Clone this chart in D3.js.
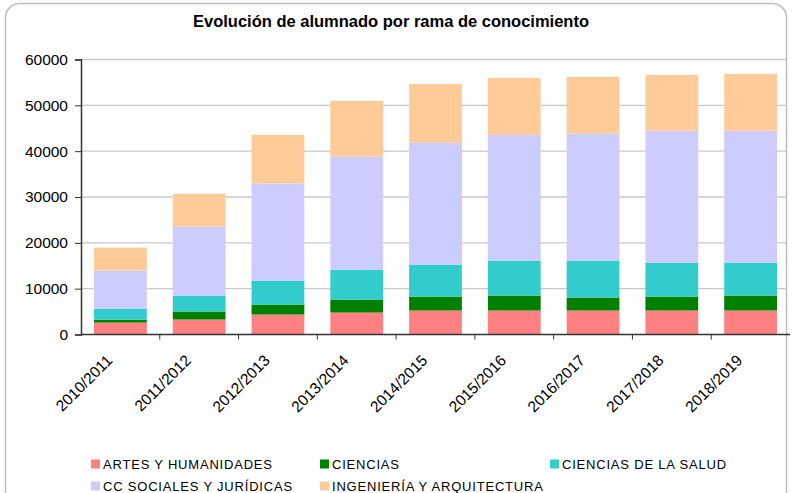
<!DOCTYPE html>
<html><head><meta charset="utf-8">
<script src="https://cdn.jsdelivr.net/npm/d3@7"></script>
<style>body{margin:0;background:#fff;}svg{display:block;font-family:"Liberation Sans",Arial,sans-serif;}</style>
</head><body>
<svg id="c" width="793" height="493"></svg>
<script>
const categories = ["2010/2011","2011/2012","2012/2013","2013/2014","2014/2015","2015/2016","2016/2017","2017/2018","2018/2019"];
const seriesNames = ["ARTES Y HUMANIDADES","CIENCIAS","CIENCIAS DE LA SALUD","CC SOCIALES Y JURÍDICAS","INGENIERÍA Y ARQUITECTURA"];
const artes    = [2600, 3270, 4360, 4790, 5230, 5230, 5230, 5230, 5230];
const ciencias = [ 650, 1740, 2180, 2840, 3050, 3270, 2830, 3050, 3270];
const salud    = [2400, 3490, 5220, 6530, 6970, 7620, 8060, 7410, 7190];
const sociales = [8280,15030,21210,24620,26580,27450,27740,28750,28750];
const ingenieria=[5020, 7190,10600,12200,12850,12420,12350,12200,12420];
const yTicks = [0,10000,20000,30000,40000,50000,60000];
const colors = ["#FF8080","#008000","#33CCCC","#CCCCFF","#FFCC99"];

const svg = d3.select("#c");
// frame
svg.append("rect").attr("x",5.5).attr("y",3.5).attr("width",781).attr("height",520)
  .attr("rx",14).attr("fill","#fff").attr("stroke","#bdbdbd").attr("stroke-width",1.5);

const m = {l:81, t:59.5, r:790, b:334.5};
const x = d3.scaleBand().domain(categories).range([m.l, m.r]).paddingInner(0.33).paddingOuter(0.165);
const xb = d3.scaleBand().domain(categories).range([m.l, m.r]);
const y = d3.scaleLinear().domain([0,60000]).range([m.b, m.t]);

// gridlines
svg.append("g").selectAll("line").data(yTicks.filter(d=>d>0)).join("line")
  .attr("x1",m.l).attr("x2",787).attr("y1",d=>y(d)).attr("y2",d=>y(d))
  .attr("stroke","#c8c8c8").attr("stroke-width",1.3);

const data = categories.map((c,i)=>({cat:c, s0:artes[i], s1:ciencias[i], s2:salud[i], s3:sociales[i], s4:ingenieria[i]}));
const stack = d3.stack().keys(["s0","s1","s2","s3","s4"])(data);
svg.append("g").selectAll("g").data(stack).join("g").attr("fill",(d,i)=>colors[i])
  .selectAll("rect").data(d=>d).join("rect")
  .attr("x",d=>x(d.data.cat)).attr("width",x.bandwidth())
  .attr("y",d=>y(d[1])).attr("height",d=>y(d[0])-y(d[1]));

// y axis
const ya = svg.append("g").attr("transform",`translate(${m.l},0)`)
  .call(d3.axisLeft(y).tickValues(yTicks).tickSize(6).tickPadding(7).tickFormat(d3.format("d")));
ya.select(".domain").attr("stroke","#333").attr("stroke-width",1.5);
ya.selectAll(".tick line").attr("stroke","#333");
ya.selectAll("text").attr("font-size","15.5px").attr("fill","#000").attr("font-family","Liberation Sans, Arial, sans-serif");

// x axis
const xa = svg.append("g").attr("transform",`translate(0,${m.b})`);
xa.append("line").attr("x1",m.l).attr("x2",m.r).attr("stroke","#333").attr("stroke-width",1.5);
xa.selectAll("line.t").data(categories.slice(1)).join("line").attr("class","t")
  .attr("x1",d=>xb(d)).attr("x2",d=>xb(d)).attr("y1",0).attr("y2",5).attr("stroke","#333");
xa.selectAll("text").data(categories).join("text")
  .attr("transform",d=>`translate(${xb(d)+xb.bandwidth()/2-11},${23}) rotate(-45)`)
  .attr("text-anchor","end").attr("font-size","15.5px").attr("dy","0.35em").text(d=>d);

// title
svg.append("text").attr("x",391).attr("y",27).attr("text-anchor","middle")
  .attr("font-size","16.5px").attr("font-weight","bold").text("Evolución de alumnado por rama de conocimiento");

// legend
const legPos = [[91,464],[320,464],[550,464],[91,486],[320,486]];
const lg = svg.append("g").selectAll("g").data(seriesNames).join("g")
  .attr("transform",(d,i)=>`translate(${legPos[i][0]},${legPos[i][1]})`);
lg.append("rect").attr("x",0).attr("y",-4.5).attr("width",9).attr("height",9).attr("fill",(d,i)=>colors[i]);
lg.append("text").attr("x",12).attr("y",5).attr("font-size","13px")
  .attr("letter-spacing","0.8px").text(d=>d);
</script>
</body></html>
